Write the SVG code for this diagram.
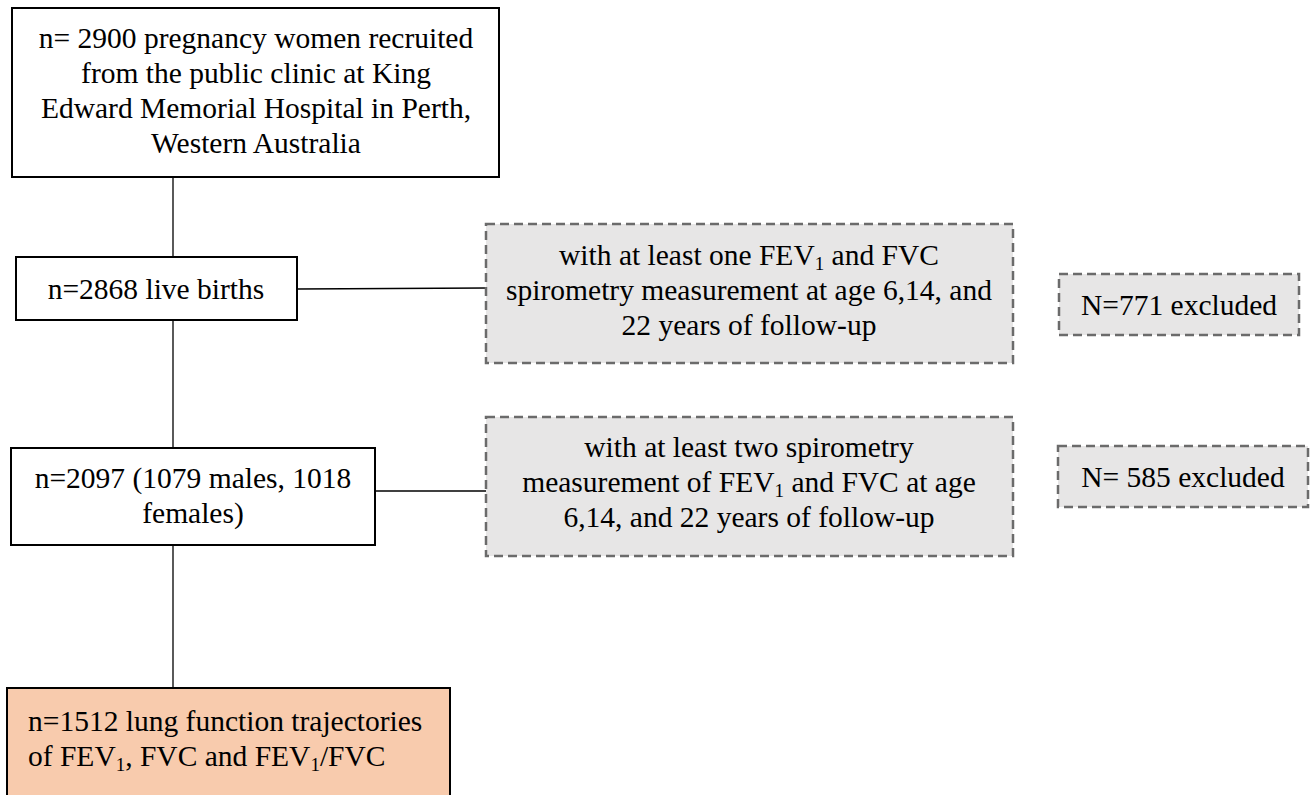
<svg xmlns="http://www.w3.org/2000/svg" width="1312" height="795" viewBox="0 0 1312 795">
<style>
text{font-family:"Liberation Serif","Times New Roman",serif;font-size:29.5px;fill:#000}
.c{text-anchor:middle}
.box{fill:#fff;stroke:#000;stroke-width:2}
.dash{fill:#e7e6e6;stroke:#6b6b6b;stroke-width:2.5;stroke-dasharray:9 5}
.out{fill:#f8cbad;stroke:#000;stroke-width:2}
.sub{font-size:19px}
.ln{stroke:#000;stroke-width:1.3;fill:none}
</style>
<rect width="1312" height="795" fill="#fff"/>
<g id="connectors">
<line class="ln" x1="173" y1="177" x2="173" y2="257"/>
<line class="ln" x1="173" y1="320" x2="173" y2="448"/>
<line class="ln" x1="173" y1="545" x2="173" y2="688"/>
<line class="ln" x1="297" y1="289" x2="486" y2="288"/>
<line class="ln" x1="375" y1="491" x2="486" y2="491"/>
</g>
<g id="recruited">
<rect class="box" x="12" y="8" width="487" height="169"/>
<text class="c" x="256" y="48">n= 2900 pregnancy women recruited</text>
<text class="c" x="256" y="83">from the public clinic at King</text>
<text class="c" x="256" y="118">Edward Memorial Hospital in Perth,</text>
<text class="c" x="256" y="153">Western Australia</text>
</g>
<g id="births">
<rect class="box" x="16" y="257" width="281" height="63"/>
<text class="c" x="156" y="299">n=2868 live births</text>
</g>
<g id="cohort">
<rect class="box" x="11" y="448" width="364" height="97"/>
<text class="c" x="193" y="488">n=2097 (1079 males, 1018</text>
<text class="c" x="193" y="523">females)</text>
</g>
<g id="final">
<rect class="out" x="7" y="688" width="443" height="120"/>
<text x="28" y="731">n=1512 lung function trajectories</text>
<text x="28" y="766">of FEV<tspan class="sub" dy="5">1</tspan><tspan dy="-5">, FVC and FEV</tspan><tspan class="sub" dy="5">1</tspan><tspan dy="-5">/FVC</tspan></text>
</g>
<g id="crit1">
<rect class="dash" x="486" y="224" width="527" height="139"/>
<text class="c" x="749" y="265">with at least one FEV<tspan class="sub" dy="5">1</tspan><tspan dy="-5"> and FVC</tspan></text>
<text class="c" x="749" y="300">spirometry measurement at age 6,14, and</text>
<text class="c" x="749" y="335">22 years of follow-up</text>
</g>
<g id="excl1">
<rect class="dash" x="1059" y="274" width="240" height="61"/>
<text class="c" x="1179" y="315">N=771 excluded</text>
</g>
<g id="crit2">
<rect class="dash" x="486" y="417" width="527" height="139"/>
<text class="c" x="749" y="457">with at least two spirometry</text>
<text class="c" x="749" y="492">measurement of FEV<tspan class="sub" dy="5">1</tspan><tspan dy="-5"> and FVC at age</tspan></text>
<text class="c" x="749" y="527">6,14, and 22 years of follow-up</text>
</g>
<g id="excl2">
<rect class="dash" x="1058" y="446" width="250" height="61"/>
<text class="c" x="1183" y="487">N= 585 excluded</text>
</g>
</svg>
